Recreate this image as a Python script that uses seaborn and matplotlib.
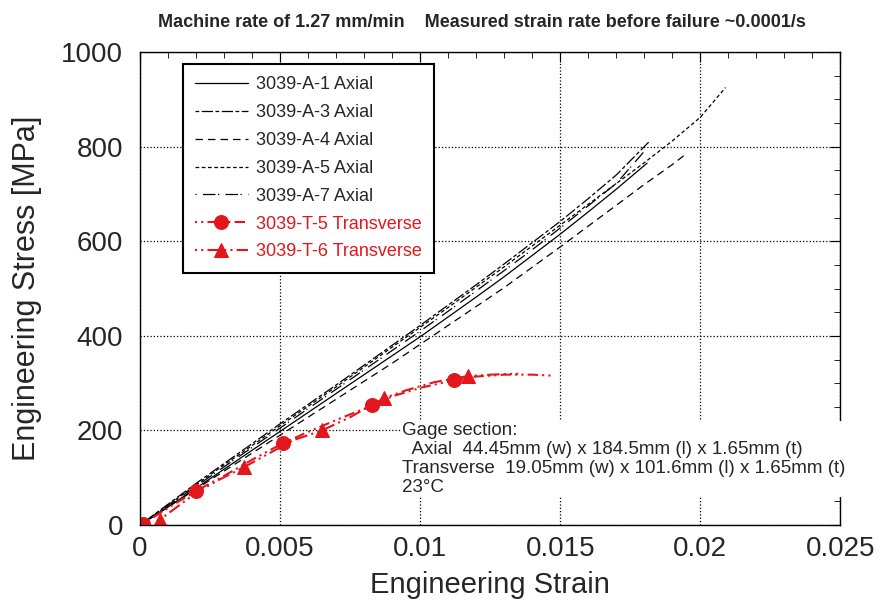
import matplotlib
matplotlib.use("Agg")
import matplotlib.pyplot as plt
import seaborn as sns
import pandas as pd
from matplotlib import font_manager
from matplotlib.ticker import MultipleLocator, FuncFormatter

# axial specimens (strain, stress MPa)
a1_strain = [0, 0.001, 0.002, 0.003, 0.004, 0.005, 0.006, 0.007, 0.008, 0.009, 0.010,
             0.011, 0.012, 0.013, 0.014, 0.015, 0.016, 0.017, 0.0181]
a1_stress = [0, 38, 78, 118, 158, 198, 238, 278, 318, 358, 398,
             440, 482, 525, 570, 615, 662, 710, 765]
a3_strain = [0, 0.001, 0.002, 0.003, 0.004, 0.005, 0.006, 0.007, 0.008, 0.009, 0.010,
             0.011, 0.012, 0.013, 0.014, 0.015, 0.016, 0.017, 0.0182]
a3_stress = [0, 44, 88, 130, 172, 214, 255, 296, 338, 380, 422,
             465, 508, 552, 597, 642, 690, 740, 812]
a4_strain = [0, 0.001, 0.002, 0.003, 0.004, 0.005, 0.006, 0.007, 0.008, 0.009, 0.010,
             0.011, 0.012, 0.013, 0.014, 0.015, 0.016, 0.017, 0.018, 0.019, 0.0195]
a4_stress = [0, 38, 76, 114, 152, 190, 228, 266, 304, 342, 382,
             422, 462, 502, 545, 588, 632, 676, 720, 762, 785]
a5_strain = [0, 0.001, 0.002, 0.003, 0.004, 0.005, 0.006, 0.007, 0.008, 0.009, 0.010,
             0.011, 0.012, 0.013, 0.014, 0.015, 0.016, 0.017, 0.018, 0.019, 0.020, 0.0209]
a5_stress = [0, 42, 85, 127, 168, 210, 251, 292, 334, 376, 418,
             460, 503, 546, 590, 634, 678, 722, 766, 812, 862, 925]
a7_strain = [0, 0.001, 0.002, 0.003, 0.004, 0.005, 0.006, 0.007, 0.008, 0.009, 0.010,
             0.011, 0.012, 0.013, 0.014, 0.015, 0.016, 0.017, 0.018]
a7_stress = [0, 41, 82, 123, 164, 205, 246, 287, 328, 369, 410,
             452, 495, 538, 582, 628, 675, 722, 790]

# transverse specimens
t5_strain = [0.0001, 0.001, 0.002, 0.003, 0.004, 0.0051, 0.006, 0.007, 0.0083, 0.009,
             0.010, 0.0112, 0.012, 0.013, 0.014, 0.0147]
t5_stress = [2, 36, 72, 104, 138, 173, 197, 222, 253, 272, 290, 306, 314, 318, 318, 316]
t5_marks = [0, 2, 5, 8, 11]
t6_strain = [0.0007, 0.002, 0.0028, 0.0037, 0.0045, 0.0055, 0.0065, 0.0075, 0.0087,
             0.0095, 0.0105, 0.0117, 0.0125, 0.0135]
t6_stress = [11, 68, 95, 122, 148, 180, 200, 228, 268, 285, 302, 315, 318, 320]
t6_marks = [0, 3, 6, 8, 11]

xtick_labels = ["0", "0.005", "0.01", "0.015", "0.02", "0.025"]

red = "#e3161c"

sns.set_style("white")
plt.rcParams['font.family'] = ['Liberation Sans', 'DejaVu Sans']

installed = {f.name for f in font_manager.fontManager.ttflist}
if "Liberation Sans Narrow" in installed:
    title_font, title_size = "Liberation Sans Narrow", 14
elif "DejaVu Sans Condensed" in installed:
    title_font, title_size = "DejaVu Sans Condensed", 12.5
else:
    title_font, title_size = "Liberation Sans", 13

fig = plt.figure(figsize=(8.8, 6.12), dpi=100)
ax = fig.add_axes([0.159, 0.142, 0.796, 0.773])

axial = [
    ("3039-A-1 Axial", a1_strain, a1_stress, "-"),
    ("3039-A-3 Axial", a3_strain, a3_stress, (0, (3, 2, 9, 2))),
    ("3039-A-4 Axial", a4_strain, a4_stress, (0, (6, 4))),
    ("3039-A-5 Axial", a5_strain, a5_stress, (0, (3, 2))),
    ("3039-A-7 Axial", a7_strain, a7_stress, (0, (1, 5, 10, 2))),
]
for name, xs, ys, ls in axial:
    df = pd.DataFrame({"strain": xs, "stress": ys})
    sns.lineplot(data=df, x="strain", y="stress", ax=ax, color="black",
                 lw=0.9, linestyle=ls, label=name, sort=False)

df5 = pd.DataFrame({"strain": t5_strain, "stress": t5_stress})
sns.lineplot(data=df5, x="strain", y="stress", ax=ax, color=red, lw=1.5,
             linestyle=(0, (1, 2, 1, 2, 5, 2)), marker="o", markersize=10,
             markevery=t5_marks, markeredgecolor=red, label="3039-T-5 Transverse", sort=False)
df6 = pd.DataFrame({"strain": t6_strain, "stress": t6_stress})
sns.lineplot(data=df6, x="strain", y="stress", ax=ax, color=red, lw=1.5,
             linestyle=(0, (1, 2, 1, 2, 6, 2)), marker="^", markersize=10,
             markevery=t6_marks, markeredgecolor=red, label="3039-T-6 Transverse", sort=False)

ax.set_xlim(0, 0.025)
ax.set_ylim(0, 1000)
ax.xaxis.set_major_locator(MultipleLocator(0.005))
ax.xaxis.set_minor_locator(MultipleLocator(0.001))
ax.yaxis.set_major_locator(MultipleLocator(200))
ax.yaxis.set_minor_locator(MultipleLocator(50))
ax.xaxis.set_major_formatter(FuncFormatter(
    lambda v, p: xtick_labels[int(round(v / 0.005))] if 0 <= round(v / 0.005) < len(xtick_labels) else ""))
ax.tick_params(which="both", direction="in", top=True, right=True, color="black")
ax.tick_params(which="major", length=7, labelsize=20)
ax.tick_params(axis="y", which="major", pad=12)
ax.tick_params(axis="x", which="major", pad=8)
ax.tick_params(which="minor", length=4)
ax.grid(True, which="major", linestyle=":", color="black", lw=0.9)
for s in ax.spines.values():
    s.set_color("black")
    s.set_linewidth(1.0)

ax.set_xlabel("Engineering Strain", fontsize=21, labelpad=6)
ax.set_ylabel("Engineering Stress [MPa]", fontsize=22, labelpad=14)

leg = ax.legend(loc="upper left", bbox_to_anchor=(0.061, 0.975), borderaxespad=0,
                fontsize=13, frameon=True, fancybox=False, edgecolor="black", framealpha=1,
                handlelength=2.9, labelspacing=0.6, borderpad=0.7, handletextpad=0.45)
leg.get_frame().set_linewidth(1.5)
for txt in leg.get_texts()[5:]:
    txt.set_color(red)

ax.text(0.00935, 218,
        "Gage section:\n  Axial  44.45mm (w) x 184.5mm (l) x 1.65mm (t)\n"
        "Transverse  19.05mm (w) x 101.6mm (l) x 1.65mm (t)\n23\u00b0C",
        fontsize=13.5, va="top", ha="left", linespacing=1.15,
        bbox=dict(facecolor="white", edgecolor="none", pad=1))

fig.text(0.548, 0.963,
         "Machine rate of 1.27 mm/min    Measured strain rate before failure ~0.0001/s",
         ha="center", va="center", fontsize=title_size, fontweight="bold",
         family=[title_font, "DejaVu Sans"])

fig.savefig("out.png", dpi=100)
